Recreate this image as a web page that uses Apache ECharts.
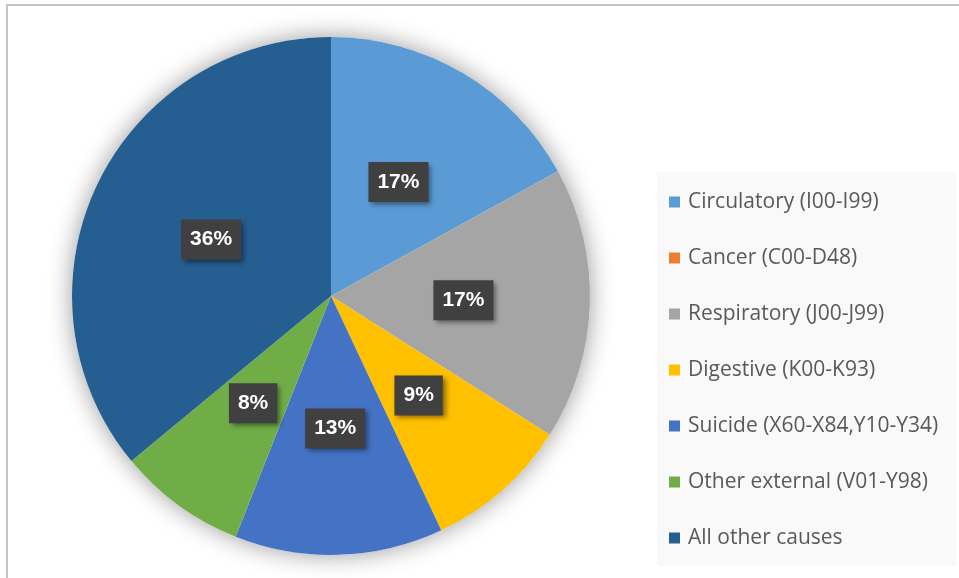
<!DOCTYPE html>
<html>
<head>
<meta charset="utf-8">
<script src="https://cdn.jsdelivr.net/npm/echarts@6/dist/echarts.min.js"></script>
<style>
  html, body { margin: 0; padding: 0; background: #fff; }
  #chart { width: 959px; height: 578px; }
</style>
</head>
<body>
<div id="chart"></div>
<script>
// Share of deaths by cause group (percent)
const causes = [
  'Circulatory (I00-I99)',
  'Cancer (C00-D48)',
  'Respiratory (J00-J99)',
  'Digestive (K00-K93)',
  'Suicide (X60-X84,Y10-Y34)',
  'Other external (V01-Y98)',
  'All other causes'
];
const shares = [17, 0, 17, 9, 13, 8, 36];
const colors = ['#5B9BD5', '#ED7D31', '#A5A5A5', '#FFC000', '#4472C4', '#70AD47', '#255E91'];

const chart = echarts.init(document.getElementById('chart'), null, { renderer: 'canvas' });

const center = [331, 296];
const radius = 259;

const sliceData = causes.map((name, i) => ({
  name,
  value: shares[i],
  itemStyle: { color: colors[i] },
  label: { show: shares[i] > 0 }
}));

chart.setOption({
  animation: false,
  backgroundColor: '#ffffff',
  color: colors,
  graphic: [
    {
      type: 'rect',
      z: -10,
      shape: { x: 7, y: 5, width: 1000, height: 700 },
      style: { fill: '#ffffff', stroke: '#c4c4c4', lineWidth: 2 }
    },
    {
      type: 'rect',
      z: -5,
      shape: { x: 657, y: 172, width: 299, height: 394 },
      style: { fill: '#f9f9f9' }
    }
  ],
  legend: {
    orient: 'vertical',
    left: 657,
    top: 172,
    padding: [19, 10, 19, 12],
    itemGap: 34,
    itemWidth: 11,
    itemHeight: 11,
    icon: 'rect',
    data: causes,
    textStyle: {
      fontFamily: 'Open Sans',
      fontSize: 21,
      color: '#595959',
      lineHeight: 22,
      padding: [0, 0, 0, 3]
    }
  },
  series: [
    {
      // soft halo under the pie
      type: 'pie',
      silent: true,
      z: 1,
      center,
      radius,
      label: { show: false },
      labelLine: { show: false },
      itemStyle: {
        color: '#ffffff',
        shadowBlur: 24,
        shadowColor: 'rgba(0,0,0,0.4)',
        shadowOffsetX: 0,
        shadowOffsetY: 0
      },
      data: [{ value: 1, name: '' }]
    },
    {
      type: 'pie',
      z: 2,
      center,
      radius,
      startAngle: 90,
      clockwise: true,
      percentPrecision: 0,
      legendHoverLink: false,
      itemStyle: { borderWidth: 0 },
      labelLine: { show: false },
      label: {
        position: 'inside',
        formatter: '{d}%',
        color: '#ffffff',
        fontFamily: 'Liberation Sans',
        fontWeight: 'bold',
        fontSize: 21,
        backgroundColor: '#404040',
        padding: [10, 9, 9, 9],
        shadowColor: 'rgba(0,0,0,0.45)',
        shadowBlur: 5,
        shadowOffsetX: 3,
        shadowOffsetY: 3
      },
      data: sliceData
    }
  ]
});
</script>
</body>
</html>
